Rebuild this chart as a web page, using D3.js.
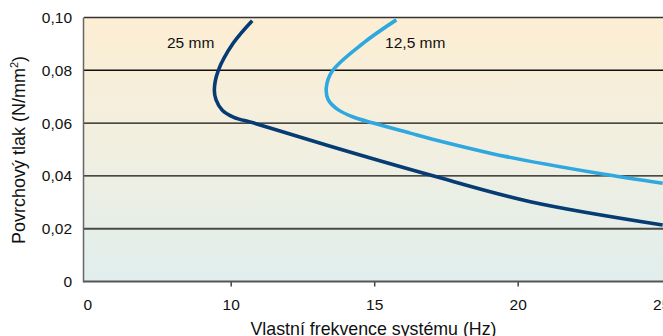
<!DOCTYPE html>
<html>
<head>
<meta charset="utf-8">
<script src="https://cdn.jsdelivr.net/npm/d3@7/dist/d3.min.js"></script>
<style>
  html, body { margin: 0; padding: 0; background: #fff; }
  svg { display: block; }
  text { font-family: "Liberation Sans", Arial, sans-serif; fill: #111; }
</style>
</head>
<body>
<script>
// Natural frequency (Hz) vs. surface pressure (N/mm²) for two pad thicknesses
const seriesNames = ["25 mm", "12,5 mm"];
const freq25 = [10.75, 10.09, 9.56, 9.43, 9.49, 9.70, 10.09, 10.78, 11.66, 13.47, 16.95, 20.44, 25.05];
const load25 = [0.0988, 0.0903, 0.0797, 0.0725, 0.0688, 0.0650, 0.0623, 0.0601, 0.0572, 0.0512, 0.0403, 0.0302, 0.0214];
const freq125 = [15.77, 14.62, 13.54, 13.33, 13.40, 13.75, 14.27, 14.97, 16.25, 17.00, 19.60, 22.80, 25.05];
const load125 = [0.0991, 0.0903, 0.0797, 0.0733, 0.0688, 0.0650, 0.0623, 0.0600, 0.0562, 0.0540, 0.0473, 0.0410, 0.0372];
const seriesColors = ["#063b74", "#2fa8df"];

// x axis is broken at the origin: the first tick is labelled "0"
const xTickValues = [5, 10, 15, 20, 25];
const xTickLabels = ["0", "10", "15", "20", "25"];
const yTickValues = [0, 0.02, 0.04, 0.06, 0.08, 0.10];
const yTickLabels = ["0", "0,02", "0,04", "0,06", "0,08", "0,10"];
const labelAnchors = [[7.78, 0.0884], [15.38, 0.0884]];

const W = 663, H = 336;
const plot = { left: 84, right: 663, top: 17.5, bottom: 281.5 };

const x = d3.scaleLinear().domain([5, 25]).range([87.2, 661.2]);
const y = d3.scaleLinear().domain([0, 0.1]).range([plot.bottom, plot.top]);

const svg = d3.select("body").append("svg").attr("width", W).attr("height", H);

const defs = svg.append("defs");
const grad = defs.append("linearGradient").attr("id", "bg").attr("x1", 0).attr("y1", 0).attr("x2", 0).attr("y2", 1);
grad.append("stop").attr("offset", "0%").attr("stop-color", "#fdeed3");
grad.append("stop").attr("offset", "50%").attr("stop-color", "#f1efe0");
grad.append("stop").attr("offset", "100%").attr("stop-color", "#e0eeed");
defs.append("clipPath").attr("id", "clip").append("rect")
  .attr("x", plot.left).attr("y", plot.top - 2)
  .attr("width", plot.right - plot.left).attr("height", plot.bottom - plot.top + 2);

svg.append("rect")
  .attr("x", plot.left).attr("y", plot.top)
  .attr("width", plot.right - plot.left).attr("height", plot.bottom - plot.top)
  .attr("fill", "url(#bg)");

// horizontal grid lines
svg.append("g").selectAll("line").data(yTickValues.filter(v => v > 0)).join("line")
  .attr("x1", plot.left).attr("x2", plot.right)
  .attr("y1", d => y(d)).attr("y2", d => y(d))
  .attr("stroke", d => (d === 0.02 ? "#4a4a4a" : d === 0.1 ? "#333" : "#111"))
  .attr("stroke-width", d => (d === 0.02 ? 2 : 1.4));

// y tick labels
svg.append("g").selectAll("text").data(yTickValues).join("text")
  .attr("x", 72).attr("y", d => y(d) + 5.5)
  .attr("text-anchor", "end").attr("font-size", 15.5)
  .text((d, i) => yTickLabels[i]);

// x axis
const xAxis = d3.axisBottom(x).tickValues(xTickValues)
  .tickFormat((d, i) => xTickLabels[i]).tickSize(5).tickSizeOuter(0);
const gx = svg.append("g").attr("transform", `translate(0,${plot.bottom})`).call(xAxis);
gx.select(".domain").remove();
gx.selectAll(".tick line").attr("stroke", "#444").attr("stroke-width", 1.5)
  .attr("display", d => (d === 5 || d === 25 ? "none" : null));
gx.selectAll(".tick text").attr("font-size", 15.5).attr("y", 28.5).attr("dy", null)
  .attr("fill", "#111").attr("font-family", "Liberation Sans, Arial, sans-serif");

// axis lines
svg.append("line").attr("x1", plot.left - 0.5).attr("x2", plot.right)
  .attr("y1", plot.bottom).attr("y2", plot.bottom)
  .attr("stroke", "#555").attr("stroke-width", 2);
svg.append("line").attr("x1", plot.left - 0.5).attr("x2", plot.left - 0.5)
  .attr("y1", plot.top).attr("y2", plot.bottom + 1)
  .attr("stroke", "#666").attr("stroke-width", 1.5);

// curves
const line = d3.line().x(d => x(d[0])).y(d => y(d[1])).curve(d3.curveCatmullRom.alpha(0.5));
const series = [
  d3.zip(freq25, load25),
  d3.zip(freq125, load125)
];
svg.append("g").attr("clip-path", "url(#clip)").selectAll("path").data(series).join("path")
  .attr("d", line)
  .attr("fill", "none")
  .attr("stroke", (d, i) => seriesColors[i])
  .attr("stroke-width", 3.6)
  .attr("stroke-linecap", "butt");

// series labels
svg.append("g").selectAll("text").data(seriesNames).join("text")
  .attr("x", (d, i) => x(labelAnchors[i][0]))
  .attr("y", (d, i) => y(labelAnchors[i][1]))
  .attr("font-size", 15.5)
  .text(d => d);

// axis titles
svg.append("text").attr("x", 373.5).attr("y", 335)
  .attr("text-anchor", "middle").attr("font-size", 17.8)
  .text("Vlastní frekvence systému (Hz)");
svg.append("text")
  .attr("transform", `translate(25,150) rotate(-90)`)
  .attr("text-anchor", "middle").attr("font-size", 18)
  .html('Povrchový tlak (N/mm<tspan dy="-7" font-size="11">2</tspan><tspan dy="7">)</tspan>');
</script>
</body>
</html>
